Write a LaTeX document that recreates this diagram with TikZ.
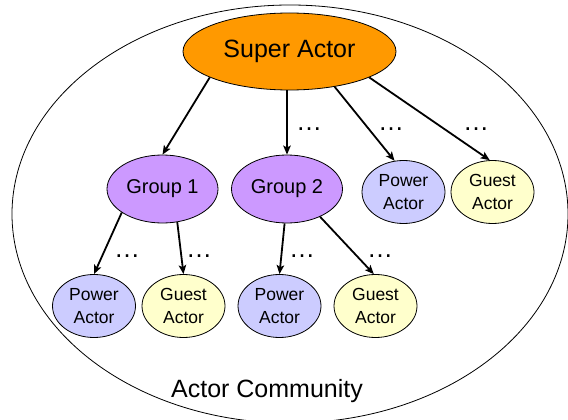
\documentclass[tikz,border=0pt]{standalone}
\usepackage{fontspec}
\setmainfont{Liberation Sans}
\usetikzlibrary{shapes.geometric,arrows.meta}

\definecolor{superfill}{HTML}{FF9900}
\definecolor{groupfill}{HTML}{CC99FF}
\definecolor{powerfill}{HTML}{CCCCFF}
\definecolor{guestfill}{HTML}{FFFFCC}

\tikzset{
  blob/.style={ellipse, draw=black, line width=0.8pt, inner sep=0pt, align=center},
  superactor/.style={blob, fill=superfill, minimum width=213pt, minimum height=77pt,
    font=\fontsize{25}{28}\selectfont},
  groupnode/.style={blob, fill=groupfill, minimum width=111pt, minimum height=68pt,
    font=\fontsize{20}{23}\selectfont},
  actornode/.style={blob, minimum width=83pt, minimum height=63pt,
    font=\fontsize{17.5}{23}\selectfont},
  poweractor/.style={actornode, fill=powerfill},
  guestactor/.style={actornode, fill=guestfill},
  link/.style={line width=1.8pt, -{Stealth[length=9pt, width=7.5pt, inset=2pt]}},
  more/.style={font=\fontsize{26}{28}\selectfont, inner sep=0pt, anchor=base},
}

\begin{document}
\begin{tikzpicture}[x=1pt, y=-1pt]
  \useasboundingbox (0,0) rectangle (568,420);

  % the surrounding community
  \node[ellipse, draw=black, line width=0.8pt, minimum width=556pt, minimum height=418pt,
        inner sep=0pt] (community) at (290,214) {};
  \node[font=\fontsize{25}{28}\selectfont, anchor=base] (communitylabel) at (267,397) {Actor Community};

  % actors
  \node[superactor] (super) at (289.5,51.5) {Super Actor};
  \node[groupnode] (g1) at (162.5,189) {Group 1};
  \node[groupnode] (g2) at (287,189) {Group 2};
  \node[poweractor] (p3) at (403.5,192) {Power\\Actor};
  \node[guestactor] (u3) at (492.5,192) {Guest\\Actor};
  \node[poweractor] (p1) at (94,306) {Power\\Actor};
  \node[guestactor] (u1) at (183.5,306) {Guest\\Actor};
  \node[poweractor] (p2) at (279.5,306) {Power\\Actor};
  \node[guestactor] (u2) at (375.5,306) {Guest\\Actor};

  % links
  \draw[link] (super.198) -- (g1.north);
  \draw[link] (super.south -| g2.north) -- (g2.north);
  \draw[link] (super.322) -- (p3.106);
  \draw[link] (super.342) -- (u3.95);
  \draw[link] (g1.210) -- (p1.north);
  \draw[link] (g1.294) -- (u1.north);
  \draw[link] (g2.266) -- (p2.north);
  \draw[link] (g2.320) -- (u2.93);

  % further members not shown
  \node[more] (m1) at (309,130) {…};
  \node[more] (m2) at (391,130) {…};
  \node[more] (m3) at (476,130) {…};
  \node[more] (m4) at (127,257) {…};
  \node[more] (m5) at (199,257) {…};
  \node[more] (m6) at (302,257) {…};
  \node[more] (m7) at (380,257) {…};
\end{tikzpicture}
\end{document}
